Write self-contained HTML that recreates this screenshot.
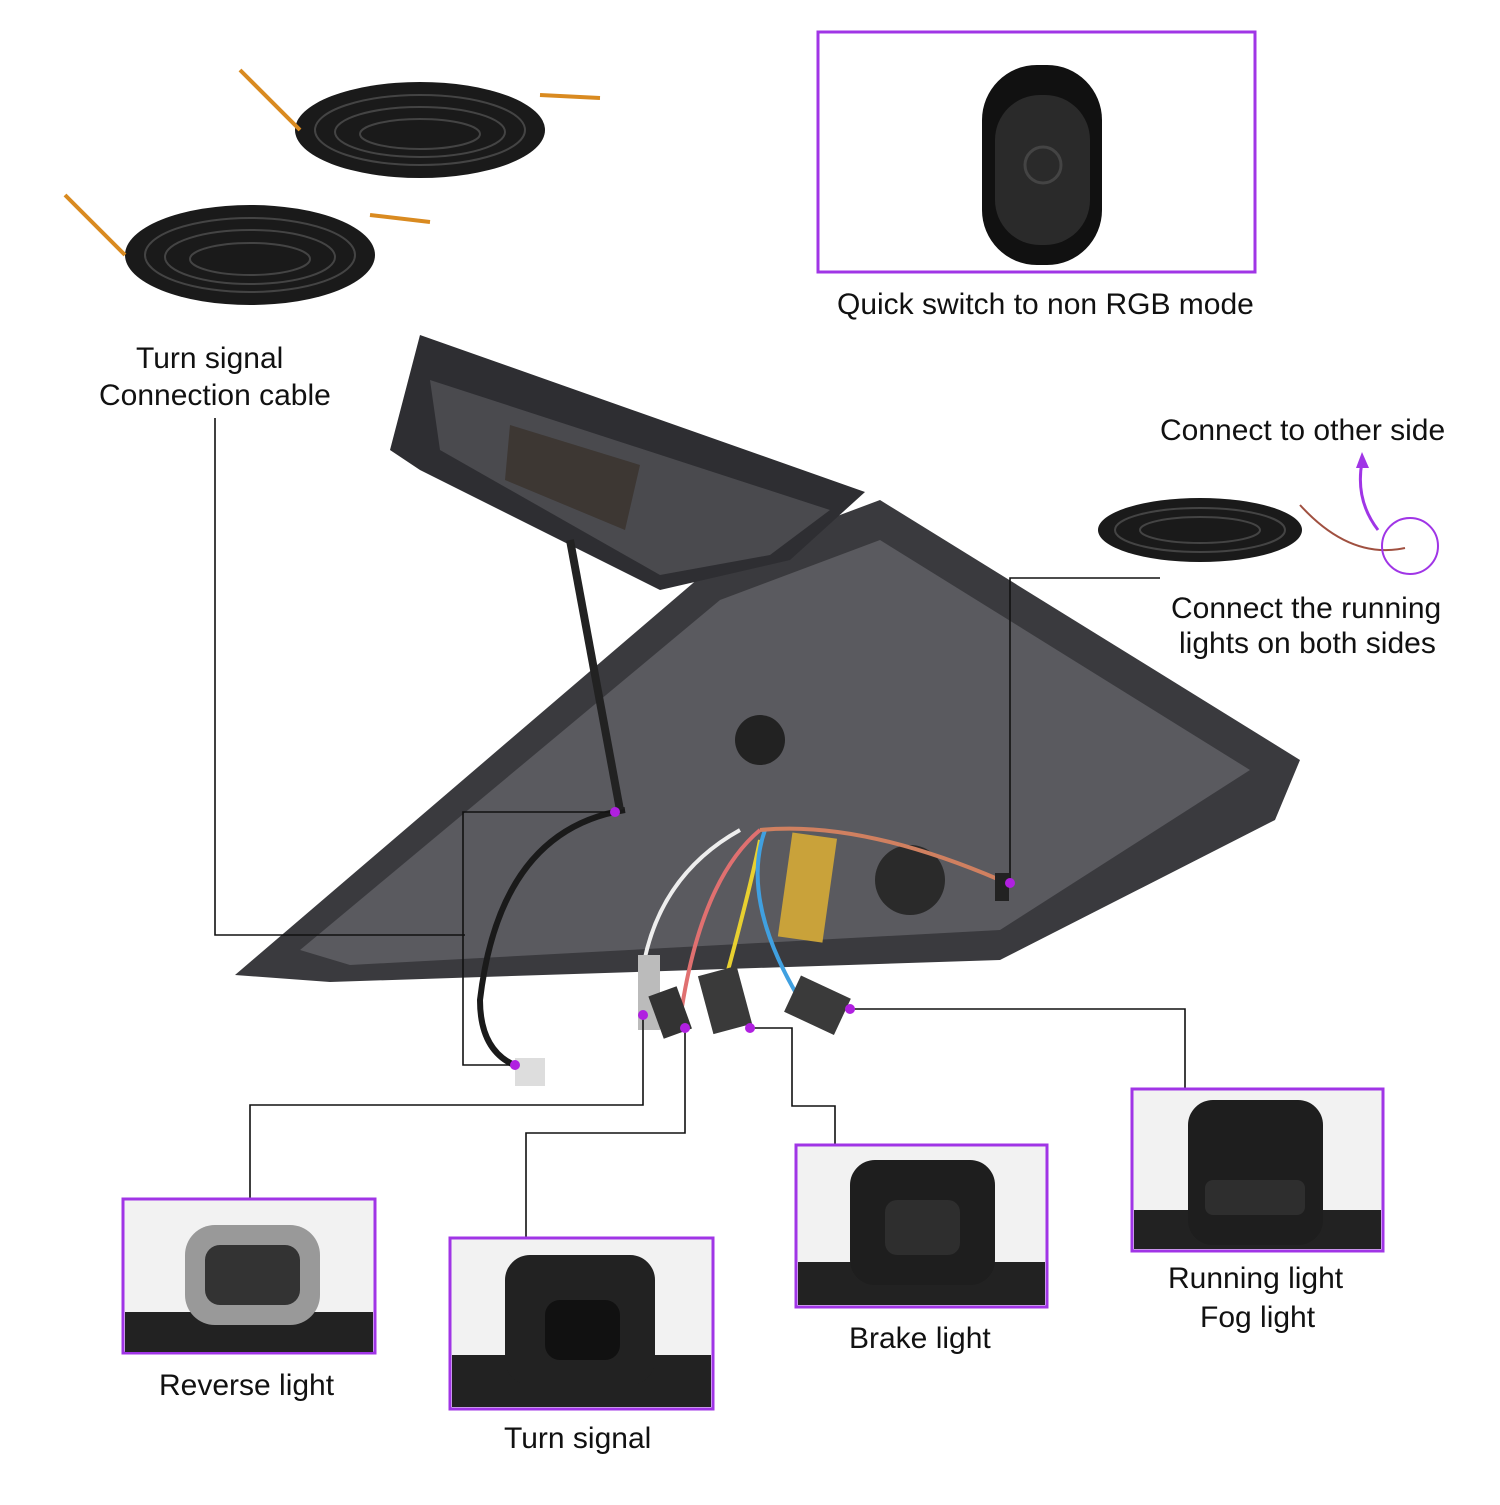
<!DOCTYPE html>
<html><head><meta charset="utf-8"><style>
html,body{margin:0;padding:0;background:#fff}
.t{font-family:"Liberation Sans",sans-serif;font-size:30px;fill:#111}
</style></head><body>
<svg width="1500" height="1500" viewBox="0 0 1500 1500" xmlns="http://www.w3.org/2000/svg">
<rect width="1500" height="1500" fill="#fff"/>
<!-- cables top left -->
<g>
<ellipse cx="420" cy="130" rx="125" ry="48" fill="#1a1a1a"/>
<ellipse cx="250" cy="255" rx="125" ry="50" fill="#1a1a1a"/>
<ellipse cx="1200" cy="530" rx="102" ry="32" fill="#1a1a1a"/>
</g>
<g fill="none" stroke="#444" stroke-width="2">
<ellipse cx="420" cy="130" rx="105" ry="35"/><ellipse cx="420" cy="132" rx="85" ry="25"/><ellipse cx="420" cy="134" rx="60" ry="15"/>
<ellipse cx="250" cy="255" rx="105" ry="37"/><ellipse cx="250" cy="257" rx="85" ry="27"/><ellipse cx="250" cy="259" rx="60" ry="16"/>
<ellipse cx="1200" cy="530" rx="85" ry="22"/><ellipse cx="1200" cy="530" rx="60" ry="13"/>
</g>
<path d="M240 70 L300 130 M540 95 L600 98" stroke="#d98a20" stroke-width="4" fill="none"/>
<path d="M65 195 L125 255 M370 215 L430 222" stroke="#d98a20" stroke-width="4" fill="none"/>
<!-- remote -->
<rect x="818" y="32" width="437" height="240" fill="#fff" stroke="#a035e6" stroke-width="3"/>
<rect x="982" y="65" width="120" height="200" rx="55" fill="#111"/>
<rect x="995" y="95" width="95" height="150" rx="45" fill="#2a2a2a"/>
<circle cx="1043" cy="165" r="18" fill="none" stroke="#444" stroke-width="3"/>
<text class="t" x="837" y="314">Quick switch to non RGB mode</text>
<!-- taillight -->
<path d="M235 975 L720 560 L880 500 L1300 760 L1275 820 L1000 960 L330 982 Z" fill="#3a3a3e"/>
<path d="M300 950 L720 600 L880 540 L1250 770 L1000 930 L350 965 Z" fill="#5a5a5f"/>
<path d="M390 450 L420 335 L865 492 L790 560 L660 590 L420 470 Z" fill="#2e2e32"/>
<path d="M430 380 L830 510 L770 555 L660 575 L440 450 Z" fill="#4a4a4e"/>
<path d="M510 425 L640 465 L625 530 L505 480 Z" fill="#3d3733"/>
<circle cx="910" cy="880" r="35" fill="#2a2a2a"/>
<circle cx="760" cy="740" r="25" fill="#222"/>
<rect x="785" y="835" width="45" height="105" fill="#c9a23a" transform="rotate(8 807 887)"/>
<g fill="none" stroke-width="4">
<path d="M625 810 Q500 830 480 1000 Q480 1060 530 1070" stroke="#1a1a1a" stroke-width="6"/>
<path d="M640 990 Q650 880 740 830" stroke="#eee"/>
<path d="M680 1020 Q700 880 760 830" stroke="#e07070"/>
<path d="M720 1000 Q750 890 760 840" stroke="#e8d030"/>
<path d="M800 1000 Q740 900 765 830" stroke="#40a0e0"/>
<path d="M760 830 Q860 820 1000 880" stroke="#d08060"/>
<path d="M570 540 L620 810" stroke="#222" stroke-width="8"/>
</g>
<!-- plugs -->
<rect x="638" y="955" width="22" height="75" fill="#bbb"/>
<rect x="655" y="990" width="30" height="45" fill="#333" transform="rotate(-20 670 1012)"/>
<rect x="705" y="970" width="40" height="60" fill="#3a3a3a" transform="rotate(-15 725 1000)"/>
<rect x="790" y="985" width="55" height="40" fill="#3a3a3a" transform="rotate(25 817 1005)"/>
<rect x="515" y="1058" width="30" height="28" fill="#ddd"/>
<rect x="995" y="873" width="14" height="28" fill="#222"/>
<!-- connector lines -->
<g fill="none" stroke="#111" stroke-width="1.6">
<path d="M215 418 V935 H465"/>
<path d="M615 812 H463 V1065 H515"/>
<path d="M250 1199 V1105 H643 V1015"/>
<path d="M526 1237 V1133 H685 V1028"/>
<path d="M835 1145 V1106 H792 V1028 H750"/>
<path d="M1185 1089 V1009 H850"/>
<path d="M1160 578 H1010 V883"/>
</g>
<g fill="#b020e0">
<circle cx="615" cy="812" r="5"/><circle cx="515" cy="1065" r="5"/><circle cx="643" cy="1015" r="5"/>
<circle cx="685" cy="1028" r="5"/><circle cx="750" cy="1028" r="5"/><circle cx="850" cy="1009" r="5"/><circle cx="1010" cy="883" r="5"/>
</g>
<path d="M1300 505 Q1350 560 1405 548" stroke="#a05040" stroke-width="2" fill="none"/>
<circle cx="1410" cy="546" r="28" fill="none" stroke="#a035e6" stroke-width="2"/>
<path d="M1378 530 Q1355 500 1362 462" stroke="#a035e6" stroke-width="3" fill="none"/>
<path d="M1356 468 L1362 452 L1369 468 Z" fill="#a035e6"/>
<text class="t" x="1160" y="440">Connect to other side</text>
<text class="t" x="1171" y="618">Connect the running</text>
<text class="t" x="1179" y="653">lights on both sides</text>
<text class="t" x="136" y="368">Turn signal</text>
<text class="t" x="99" y="405">Connection cable</text>
<!-- boxes -->
<g stroke="#a035e6" stroke-width="3">
<rect x="123" y="1199" width="252" height="154" fill="#f2f2f2"/>
<rect x="450" y="1238" width="263" height="171" fill="#f2f2f2"/>
<rect x="796" y="1145" width="251" height="162" fill="#f2f2f2"/>
<rect x="1132" y="1089" width="251" height="162" fill="#f2f2f2"/>
</g>
<rect x="125" y="1312" width="248" height="40" fill="#222"/>
<rect x="452" y="1355" width="259" height="52" fill="#222"/>
<rect x="798" y="1262" width="247" height="43" fill="#222"/>
<rect x="1134" y="1210" width="247" height="39" fill="#222"/>
<rect x="185" y="1225" width="135" height="100" rx="30" fill="#999"/><rect x="205" y="1245" width="95" height="60" rx="15" fill="#333"/>
<rect x="505" y="1255" width="150" height="130" rx="25" fill="#222"/><rect x="545" y="1300" width="75" height="60" rx="15" fill="#111"/>
<rect x="850" y="1160" width="145" height="125" rx="25" fill="#1e1e1e"/><rect x="885" y="1200" width="75" height="55" rx="12" fill="#2e2e2e"/>
<rect x="1188" y="1100" width="135" height="145" rx="25" fill="#1e1e1e"/><rect x="1205" y="1180" width="100" height="35" rx="8" fill="#2e2e2e"/>
<text class="t" x="159" y="1395">Reverse light</text>
<text class="t" x="504" y="1448">Turn signal</text>
<text class="t" x="849" y="1348">Brake light</text>
<text class="t" x="1168" y="1288">Running light</text>
<text class="t" x="1200" y="1327">Fog light</text>
</svg>
</body></html>
